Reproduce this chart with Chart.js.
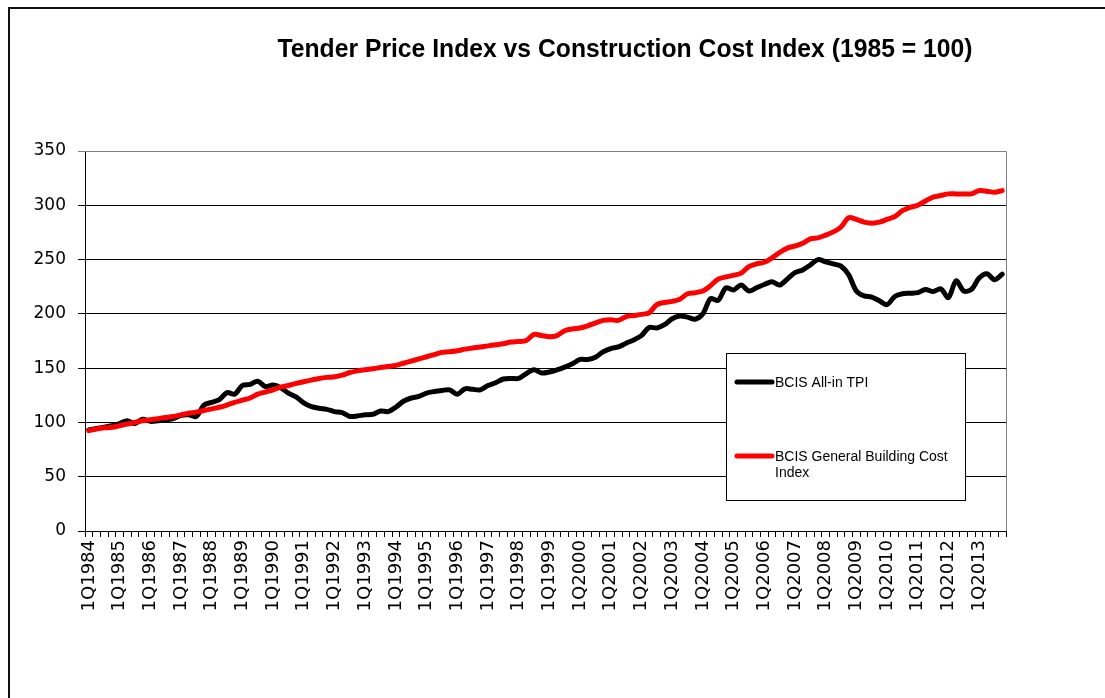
<!DOCTYPE html>
<html>
<head>
<meta charset="utf-8">
<script src="https://cdn.jsdelivr.net/npm/chart.js@4.4.1/dist/chart.umd.min.js"></script>
<style>
  html, body { margin: 0; padding: 0; background: #fff; overflow: hidden; }
  #wrap { position: relative; width: 1105px; height: 698px; }
  #frame { position: absolute; left: 8px; top: 7px; width: 1200px; height: 800px;
           border-left: 2px solid #111; border-top: 2px solid #111; }
  canvas { position: absolute; left: 0; top: 0; }
</style>
</head>
<body>
<div id="wrap">
  <div id="frame"></div>
  <canvas id="myChart" width="1105" height="698"></canvas>
</div>
<script>
const titleText = 'Tender Price Index vs Construction Cost Index (1985 = 100)';

const years = [1984, 1985, 1986, 1987, 1988, 1989, 1990, 1991, 1992, 1993,
  1994, 1995, 1996, 1997, 1998, 1999, 2000, 2001, 2002, 2003,
  2004, 2005, 2006, 2007, 2008, 2009, 2010, 2011, 2012, 2013];

// quarterly categories, 1Q1984 .. 4Q2013
const labels = [];
years.forEach(y => { for (let q = 1; q <= 4; q++) labels.push(q + 'Q' + y); });

const tpi = [
  93, 94.5, 95.5, 97, 99, 101.5, 99, 103, 101, 101.5,
  102.5, 103.5, 106.5, 107, 105.5, 116, 118.5, 121, 127.5, 126,
  134, 135, 138, 133, 134.5, 132, 127, 123.5, 118, 114.5,
  113, 112, 110, 109, 105.5, 106, 107, 107.5, 110.5, 110,
  114, 119.5, 122.5, 124, 127, 128.5, 129.5, 130, 126, 131,
  130.5, 130, 134, 136.5, 140, 140.5, 140.5, 145, 148.5, 145.5,
  146.5, 148.5, 151, 154, 158, 158, 160, 165, 168, 169.5,
  173, 176, 180, 187.5, 187, 190, 195.5, 198, 197, 195,
  200, 214, 212.5, 224, 222, 226.5, 221, 224, 227, 229.5,
  226.5, 232, 238, 240.5, 245, 250, 248, 246, 244, 236,
  221, 216.5, 215.5, 212, 208.5, 216, 218.5, 219, 219.5, 222.5,
  220.5, 223, 215, 230.5, 221, 222.5, 233, 237, 231.5, 236.5
];

const costIndex = [
  92.4, 94, 95, 95.5, 97, 98.5, 100, 101.5, 102.5, 103.5,
  104.5, 105.5, 107, 108.5, 109.5, 111, 112.5, 114, 116, 118.5,
  120.5, 122.5, 126, 128, 130, 132.5, 134, 136, 137.5, 139,
  140.5, 141.5, 142, 143.5, 146, 147.5, 148.5, 149.5, 150.5, 151.5,
  152.5, 154.5, 156.5, 158.5, 160.5, 162.5, 164.5, 165, 166, 167.5,
  168.5, 169.5, 170.5, 171.5, 172.5, 174, 174.5, 175.5, 181, 180,
  179, 180, 184.5, 186, 187, 189, 191.5, 194, 194.5, 194,
  197.5, 198.5, 199.5, 201, 208.5, 210.5, 211.5, 213.5, 218.5, 219.5,
  221, 226, 232, 234, 235.5, 237.5, 243.5, 246, 247.5, 251.5,
  256.5, 260.5, 262.5, 265, 269, 270, 272.5, 275.5, 280, 288.5,
  287, 284.5, 283.5, 284.5, 287, 289.5, 295, 298, 300, 304,
  307.5, 309, 310.5, 310.5, 310.5, 310.5, 313.5, 313, 312, 313.5
];

const seriesNames = ['BCIS All-in TPI', 'BCIS General Building Cost Index'];

// title drawn at a fixed spot, squeezed to the width it has in the sheet
const sheetTitle = {
  id: 'sheetTitle',
  afterDraw(chart) {
    const c = chart.ctx;
    c.save();
    c.font = 'bold 26px "Liberation Sans", Arial, sans-serif';
    c.fillStyle = '#000';
    c.textBaseline = 'alphabetic';
    const w = c.measureText(titleText).width;
    c.translate(625, 57);
    c.scale(695 / w, 1);
    c.textAlign = 'center';
    c.fillText(titleText, 0, 0);
    c.restore();
  }
};

// boxed legend inside the plot, like the Excel one
const boxLegend = {
  id: 'boxLegend',
  afterDraw(chart) {
    const c = chart.ctx;
    c.save();
    c.fillStyle = '#fff';
    c.fillRect(726, 353, 240, 147);
    c.strokeStyle = '#000';
    c.lineWidth = 1;
    c.strokeRect(726.5, 353.5, 239, 147);
    c.font = '14px "Liberation Sans", Arial, sans-serif';
    c.textBaseline = 'alphabetic';
    const rows = [
      { y: 382, lines: ['BCIS All-in TPI'] },
      { y: 456, lines: ['BCIS General Building Cost', 'Index'] }
    ];
    chart.data.datasets.forEach((ds, i) => {
      const r = rows[i];
      c.strokeStyle = ds.borderColor;
      c.lineWidth = 5;
      c.lineCap = 'round';
      c.beginPath();
      c.moveTo(737, r.y);
      c.lineTo(772, r.y);
      c.stroke();
      c.fillStyle = '#000';
      r.lines.forEach((t, j) => c.fillText(t, 775, r.y + 5 + j * 16));
    });
    c.restore();
  }
};

// grey frame on the top and right of the plot area
const plotFrame = {
  id: 'plotFrame',
  beforeDatasetsDraw(chart) {
    const a = chart.chartArea;
    const c = chart.ctx;
    c.save();
    c.strokeStyle = '#808080';
    c.lineWidth = 1;
    c.beginPath();
    c.moveTo(a.left, Math.round(a.top) + 0.5);
    c.lineTo(Math.round(a.right) + 0.5, Math.round(a.top) + 0.5);
    c.lineTo(Math.round(a.right) + 0.5, a.bottom);
    c.stroke();
    c.restore();
  }
};

const data = {
  labels,
  datasets: [
    {
      label: seriesNames[0],
      data: tpi,
      borderColor: '#000000',
      order: 1,
    },
    {
      label: seriesNames[1],
      data: costIndex,
      borderColor: '#ff0000',
      order: 0,
    },
  ],
};

const config = {
  type: 'line',
  data,
  options: {
    responsive: false,
    animation: false,
    layout: { padding: { left: 0, top: 151, right: 99, bottom: 0 } },
    elements: {
      line: { borderWidth: 5, tension: 0.3, borderCapStyle: 'round', borderJoinStyle: 'round', fill: false },
      point: { radius: 0, hoverRadius: 0 },
    },
    plugins: {
      legend: { display: false },
      title: { display: false },
      tooltip: { enabled: false },
    },
    scales: {
      x: {
        offset: true,
        grid: { drawOnChartArea: false, offset: true, color: '#000', tickLength: 6 },
        border: { color: '#000', width: 1 },
        ticks: {
          autoSkip: false,
          minRotation: 90,
          maxRotation: 90,
          padding: 3,
          color: '#000',
          font: { family: 'DejaVu Sans', size: 18 },
          callback(v, i) { return i % 4 === 0 ? this.getLabelForValue(v) : ''; },
        },
        afterFit(scale) { scale.height = 167; },
      },
      y: {
        min: 0,
        max: 350,
        grid: {
          color: ctx => (ctx.tick && ctx.tick.value === 350 ? '#808080' : '#000'),
          tickLength: 7,
        },
        border: { color: '#000', width: 1 },
        ticks: {
          stepSize: 50,
          padding: 12,
          color: '#000',
          font: { family: 'DejaVu Sans', size: 17 },
        },
        afterFit(scale) { scale.width = 85; },
      },
    },
  },
  plugins: [plotFrame, boxLegend, sheetTitle],
};

const ctx = document.getElementById('myChart');

const chart = new Chart(ctx, config);
</script>
</body>
</html>
